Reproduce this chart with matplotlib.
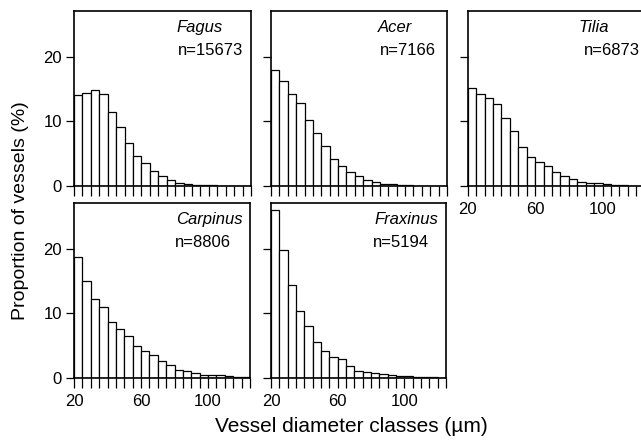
import numpy as np
import matplotlib
matplotlib.use("Agg")
import matplotlib.pyplot as plt

plt.rcParams["font.family"] = ["Liberation Sans", "DejaVu Sans"]

# diameter classes, 5 um wide, 20..125 um
bin_edges = list(range(20, 130, 5))

fagus = [14.1, 14.35, 14.9, 14.25, 11.5, 9.2, 6.7, 4.7, 3.5, 2.3, 1.55,
         0.93, 0.47, 0.36, 0.2, 0.2, 0.15, 0.05, 0.05, 0.02, 0.01]
acer = [17.9, 16.2, 14.25, 12.8, 10.2, 8.2, 6.2, 4.25, 3.1, 2.2, 1.5,
        0.98, 0.62, 0.36, 0.26, 0.2, 0.1, 0.05, 0.03, 0.02, 0.01]
tilia = [15.2, 14.2, 13.7, 12.7, 10.6, 8.5, 6.05, 4.5, 3.7, 3.1, 2.1,
         1.55, 1.15, 0.62, 0.52, 0.4, 0.26, 0.15, 0.1, 0.05, 0.03]
carpinus = [18.7, 15.1, 12.3, 11.0, 8.7, 7.5, 6.5, 5.0, 4.15, 3.6, 2.65,
            1.9, 1.2, 1.0, 0.73, 0.47, 0.42, 0.42, 0.26, 0.15, 0.1]
fraxinus = [26.0, 19.9, 14.4, 10.3, 8.1, 5.5, 4.1, 3.2, 2.95, 1.8, 1.1,
            0.9, 0.73, 0.52, 0.42, 0.3, 0.2, 0.15, 0.1, 0.05, 0.03]

species = ["Fagus", "Acer", "Tilia", "Carpinus", "Fraxinus"]
counts = [15673, 7166, 6873, 8806, 5194]
values = [fagus, acer, tilia, carpinus, fraxinus]
yticks = [0, 10, 20]
xlabels = [20, 60, 100]

W, H = 641, 440
fig = plt.figure(figsize=(W / 100, H / 100), dpi=100)

# panel boxes in pixels: left, top, width, height
boxes = [(74, 11, 177, 175), (271, 11, 176, 175), (467.7, 11, 177, 175),
         (74, 203.3, 176, 174.4), (271, 203.3, 175, 174.4)]
# text anchors (axes fraction, right aligned): name x, n x
name_x = [0.842, 0.802, 0.798, 0.958, 0.955]
n_x = [0.953, 0.936, 0.973, 0.891, 0.904]
show_ylab = [True, False, False, True, False]
show_xlab = [False, False, True, True, True]

for i, sp in enumerate(species):
    l, t, w, h = boxes[i]
    ax = fig.add_axes([l / W, 1 - (t + h) / H, w / W, h / H])
    edges = np.array(bin_edges)
    ax.bar(edges[:-1], values[i], width=5, align="edge", color="white",
           edgecolor="black", linewidth=0.9)
    ax.set_xlim(20, 125)
    ax.set_ylim(0, 27.1)
    ax.set_xticks(bin_edges)
    ax.set_xticklabels([str(v) if (v in xlabels and show_xlab[i]) else ""
                        for v in bin_edges])
    ax.set_yticks(yticks)
    if show_ylab[i]:
        ax.set_yticklabels([str(v) for v in yticks])
    else:
        ax.set_yticklabels([])
    ax.tick_params(axis="x", direction="out", length=7.2, width=0.9,
                   labelsize=12, pad=4.5)
    ax.tick_params(axis="y", direction="out", length=5.8, width=0.9,
                   labelsize=12, pad=3)
    for s in ax.spines.values():
        s.set_linewidth(1.2)
    ax.text(name_x[i], 0.908, sp, transform=ax.transAxes, ha="right",
            va="center", fontsize=12, style="italic")
    ax.text(n_x[i], 0.775, f"n={counts[i]}", transform=ax.transAxes,
            ha="right", va="center", fontsize=12)

fig.text(21 / W, 1 - 211 / H, "Proportion of vessels (%)", rotation=90,
         ha="center", va="center", fontsize=14)
fig.text(351 / W, 1 - 426 / H, "Vessel diameter classes (µm)",
         ha="center", va="center", fontsize=15)

fig.savefig("out.png", dpi=100)
